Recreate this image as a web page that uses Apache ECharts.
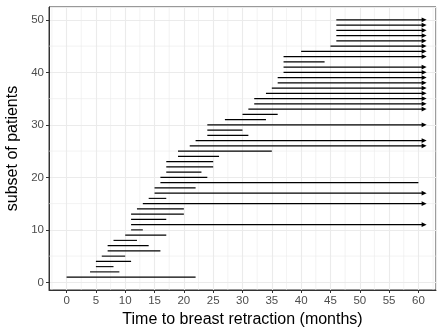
<!DOCTYPE html>
<html>
<head>
<meta charset="utf-8">
<script src="https://cdn.jsdelivr.net/npm/echarts@6/dist/echarts.min.js"></script>
<style>
html, body { margin: 0; padding: 0; background: #fff; }
#chart { width: 438px; height: 327px; }
</style>
</head>
<body>
<div id="chart"></div>
<script>
// one row per patient: interval in which retraction was first seen
var patients = [1, 2, 3, 4, 5, 6, 7, 8, 9, 10,
    11, 12, 13, 14, 15, 16, 17, 18, 19, 20,
    21, 22, 23, 24, 25, 26, 27, 28, 29, 30,
    31, 32, 33, 34, 35, 36, 37, 38, 39, 40,
    41, 42, 43, 44, 45, 46, 47, 48, 49, 50];
var leftTimes = [0, 4, 5, 5, 6, 7, 7, 8, 10, 11,
    11, 11, 11, 12, 13, 14, 15, 15, 16, 16,
    17, 17, 17, 19, 19, 21, 22, 24, 24, 24,
    27, 30, 31, 32, 32, 34, 35, 36, 36, 37,
    37, 37, 37, 40, 45, 46, 46, 46, 46, 46];
// null = no retraction seen yet (right censored, drawn as arrow)
var rightTimes = [22, 9, 8, 11, 10, 16, 14, 12, 17, 13,
    null, 17, 20, 20, null, 17, null, 22, 60, 24,
    23, 25, 25, 26, 35, null, null, 31, 30, null,
    34, 36, null, null, null, null, null, null, null, null,
    null, 44, null, null, null, null, null, null, null, null];
var xMinorBreaks = [-2.5, 2.5, 7.5, 12.5, 17.5, 22.5, 27.5, 32.5, 37.5, 42.5, 47.5, 52.5, 57.5, 62.5];
var yMinorBreaks = [5, 15, 25, 35, 45];

var ARROW_END = 61.4;
var FONT = '"Liberation Sans", Arial, sans-serif';

var segData = patients.map(function (p, i) {
    var open = rightTimes[i] === null;
    return [p, leftTimes[i], open ? ARROW_END : rightTimes[i], open ? 1 : 0];
});

function renderInterval(params, api) {
    var row = api.value(0);
    var a = api.coord([api.value(1), row]);
    var b = api.coord([api.value(2), row]);
    var open = api.value(3) === 1;
    var kids = [{
        type: 'line',
        shape: { x1: a[0], y1: a[1], x2: open ? b[0] - 3 : b[0], y2: b[1] },
        style: { stroke: '#000', lineWidth: 1.1 }
    }];
    if (open) {
        kids.push({
            type: 'polygon',
            shape: { points: [[b[0], b[1]], [b[0] - 5, b[1] - 2.4], [b[0] - 5, b[1] + 2.4]] },
            style: { fill: '#000' }
        });
    }
    return { type: 'group', children: kids };
}

function renderMinor(params, api) {
    var cs = params.coordSys;
    var p = api.coord([api.value(0), api.value(1)]);
    var vertical = api.value(2) === 1;
    return {
        type: 'line',
        shape: vertical
            ? { x1: p[0], y1: cs.y, x2: p[0], y2: cs.y + cs.height }
            : { x1: cs.x, y1: p[1], x2: cs.x + cs.width, y2: p[1] },
        style: { stroke: '#EBEBEB', lineWidth: 0.6 }
    };
}

var minorData = xMinorBreaks.map(function (v) { return [v, 0, 1]; })
    .concat(yMinorBreaks.map(function (v) { return [0, v, 0]; }));

var myChart = echarts.init(document.getElementById('chart'));
var option = {
    animation: false,
    backgroundColor: '#fff',
    grid: {
        left: 49, right: 2, top: 7, bottom: 37,
        outerBoundsMode: 'none',
        show: true, borderColor: '#333', borderWidth: 1
    },
    xAxis: {
        type: 'value',
        min: -3, max: 63,
        splitNumber: 13, minInterval: 5, maxInterval: 5,
        name: 'Time to breast retraction (months)',
        nameLocation: 'middle',
        nameGap: 20,
        nameTextStyle: { color: '#000', fontSize: 16, fontFamily: FONT },
        axisLine: { show: true, onZero: false, lineStyle: { color: '#333' } },
        axisTick: { show: true, length: 3, lineStyle: { color: '#333' } },
        axisLabel: {
            color: '#4D4D4D', fontSize: 11.5, fontFamily: FONT, margin: 5,
            showMinLabel: false, showMaxLabel: false,
            formatter: function (v) { return v % 5 === 0 ? String(v) : ''; }
        },
        splitLine: { show: true, lineStyle: { color: '#EBEBEB', width: 1.1 } }
    },
    yAxis: {
        type: 'value',
        min: -1.45, max: 52.45,
        splitNumber: 5, minInterval: 10, maxInterval: 10,
        name: 'subset of patients',
        nameLocation: 'middle',
        nameGap: 25,
        nameTextStyle: { color: '#000', fontSize: 16, fontFamily: FONT },
        axisLine: { show: true, onZero: false, lineStyle: { color: '#333' } },
        axisTick: { show: true, length: 3, lineStyle: { color: '#333' } },
        axisLabel: {
            color: '#4D4D4D', fontSize: 11.5, fontFamily: FONT, margin: 5,
            showMinLabel: false, showMaxLabel: false,
            formatter: function (v) { return v % 10 === 0 ? String(v) : ''; }
        },
        splitLine: { show: true, lineStyle: { color: '#EBEBEB', width: 1.1 } }
    },
    series: [{
        type: 'custom',
        name: 'minor grid',
        silent: true,
        z: 1,
        renderItem: renderMinor,
        encode: { x: 0, y: 1 },
        data: minorData
    }, {
        type: 'custom',
        name: 'retraction interval',
        z: 3,
        renderItem: renderInterval,
        encode: { x: [1, 2], y: 0 },
        data: segData
    }]
};
myChart.setOption(option);
</script>
</body>
</html>
